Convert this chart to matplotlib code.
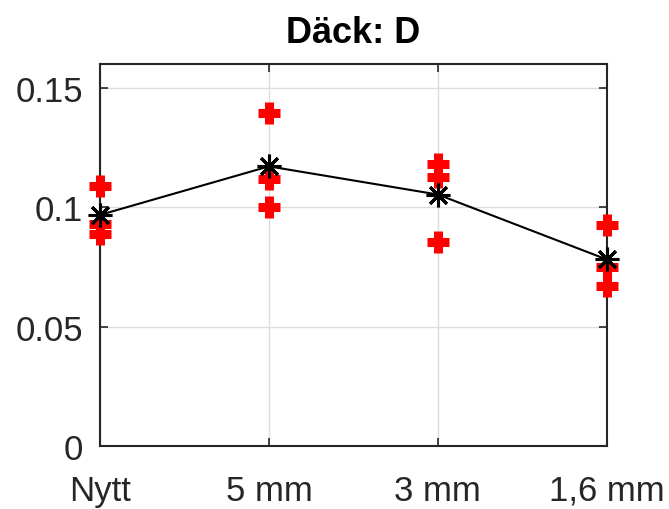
import matplotlib.pyplot as plt

# Data
categories = ['Nytt', '5 mm', '3 mm', '1,6 mm']
samples = [
    [0.1088, 0.0929, 0.0887],
    [0.1395, 0.1119, 0.1000],
    [0.1181, 0.1126, 0.0853],
    [0.0924, 0.0748, 0.0672],
]
means = [sum(s) / len(s) for s in samples]

plt.rcParams['font.family'] = ['Liberation Sans', 'DejaVu Sans']

fig = plt.figure(figsize=(6.69, 5.10), dpi=100)
ax = fig.add_axes([0.1495, 0.1235, 0.7575, 0.749])

xs = list(range(1, len(categories) + 1))
for x, s in zip(xs, samples):
    ax.plot([x] * len(s), s, linestyle='none', marker='+', color='red',
            markersize=16, markeredgewidth=6.5, zorder=6, clip_on=False)
ax.plot(xs, means, color='black', linewidth=1.5, marker=(8, 2, 0),
        markersize=17, markeredgewidth=2.2, zorder=7, clip_on=False)

ax.set_xlim(1, 4)
ax.set_ylim(0, 0.16)
ax.set_xticks(xs)
ax.set_xticklabels(categories)
ax.set_yticks([0, 0.05, 0.1, 0.15])
ax.set_yticklabels(['0', '0.05', '0.1', '0.15'])
ax.grid(True, color='#dcdcdc', linewidth=1)
ax.set_axisbelow(True)
ax.tick_params(direction='in', length=6, width=1.2, labelsize=25,
               top=True, right=True, colors='#262626', pad=12)
ax.tick_params(axis='x', pad=20)
for sp in ax.spines.values():
    sp.set_linewidth(1.5)
    sp.set_color('#262626')
    sp.set_zorder(5)
ax.set_title('Däck: D', fontsize=26, fontweight='bold', pad=16)

fig.savefig('out.png', dpi=100)
